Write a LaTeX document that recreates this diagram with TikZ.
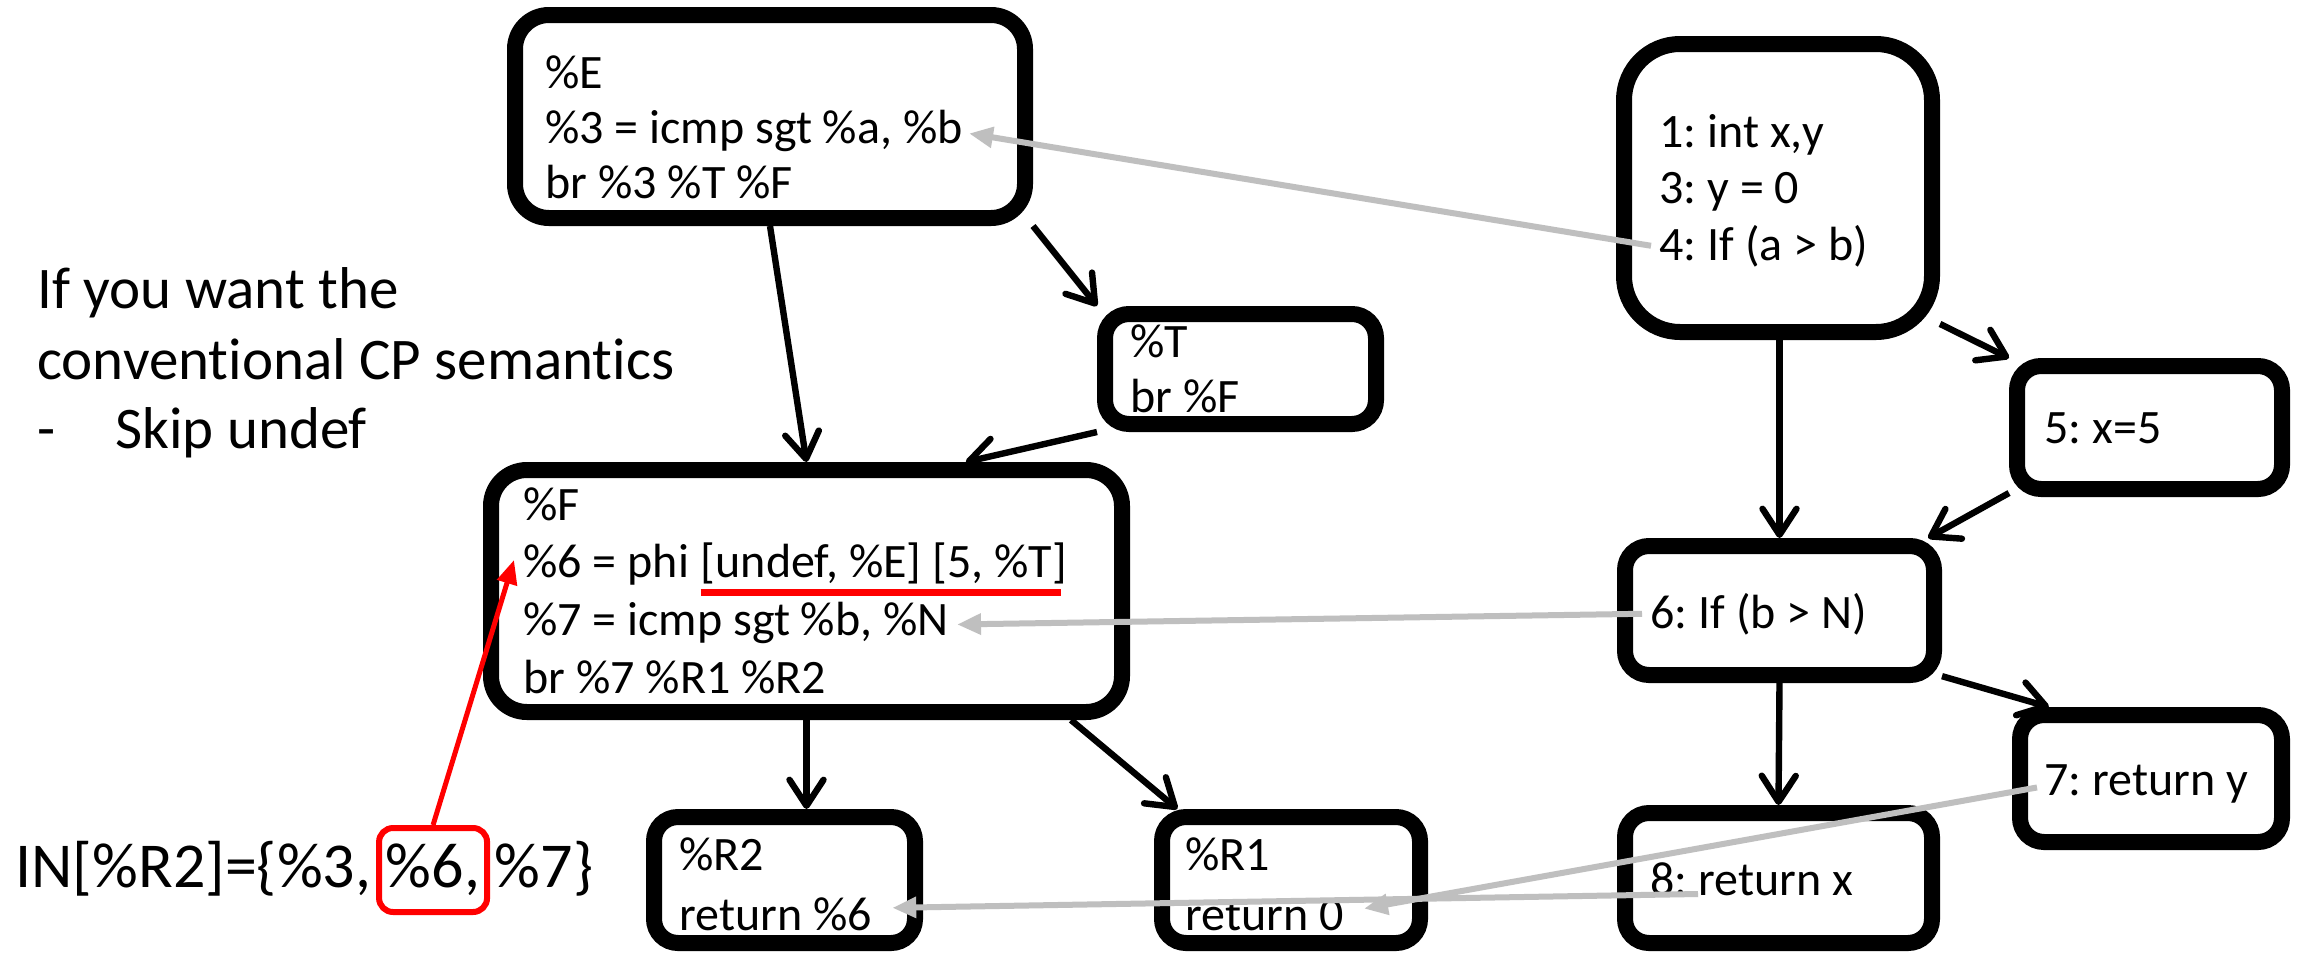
\documentclass[tikz,border=0pt]{standalone}
\usepackage{fontspec}
\setmainfont{Carlito}[Ligatures=NoCommon]
\usetikzlibrary{arrows.meta,calc}
\definecolor{refgrey}{HTML}{BFBFBF}
\definecolor{hlred}{HTML}{FF0000}
\newcommand\cfgbox[6]{%
  \node[blk, rounded corners=#6, minimum width={(#4-#2-16)*0.5pt}, minimum height={(#5-#3-16)*0.5pt}] (#1) at ({(#2+#4)/2},{(#3+#5)/2}) {};}
\frenchspacing
\begin{document}
\begin{tikzpicture}[x=0.5pt,y=-0.5pt,
  blk/.style={draw=black, line width=8pt, inner sep=0pt},
  code/.style={font=\fontsize{24}{29}\selectfont, anchor=base west, inner sep=0pt},
  note/.style={font=\fontsize{29.5}{35}\selectfont, anchor=base west, inner sep=0pt},
  innote/.style={font=\fontsize{32}{38}\selectfont, anchor=base west, inner sep=0pt},
  flow/.style={draw=black, line width=3.2pt, -{Straight Barb[length=13pt,width=17pt,round]}},
  link/.style={draw=refgrey, line width=3pt, -{Triangle[length=12pt,width=10pt]}},
  hlarrow/.style={draw=hlred, line width=2.5pt, -{Triangle[length=12pt,width=10pt]}},
]
\fill[white] (0,0) rectangle (2308,954);
\useasboundingbox (0,0) rectangle (2308,954);

% boxes (outer edges in px)
\cfgbox{E}{507}{7}{1033}{226}{17pt}
\cfgbox{T}{1097}{306}{1384}{432}{12pt}
\cfgbox{F}{483}{462}{1130}{720}{18pt}
\cfgbox{R2}{646}{809}{923}{951}{12pt}
\cfgbox{R1}{1154}{809}{1428}{951}{12pt}
\cfgbox{B1}{1616}{36}{1940}{340}{28pt}
\cfgbox{B5}{2009}{358}{2290}{497}{12pt}
\cfgbox{B6}{1617}{538}{1942}{683}{12pt}
\cfgbox{B7}{2012}{707}{2290}{850}{12pt}
\cfgbox{B8}{1617}{805}{1940}{951}{12pt}

% texts
\node[code] (e1) at (545,88) {\%E};
\node[code] (e2) at (545,143) {\%3 = icmp sgt \%a, \%b};
\node[code] (e3) at (545,198) {br \%3 \%T \%F};
\node[code] (t1) at (1130,357) {\%T};
\node[code] (t2) at (1130,412) {br \%F};
\node[code] (f1) at (523,520) {\%F};
\node[code] (f2a) at (523,577) {\%6 = phi};
\node[code] (f2b) at ($(f2a.base east)+(11,0)$) {[undef, \%E] [5, \%T]};
\node[code] (f3) at (523,635) {\%7 = icmp sgt \%b, \%N};
\node[code] (f4) at (523,693) {br \%7 \%R1 \%R2};
\node[code] (r2a) at (679,870) {\%R2};
\node[code] (r2b) at (679,930) {return \%6};
\node[code] (r1a) at (1185,870) {\%R1};
\node[code] (r1b) at (1185,930) {return 0};
\node[code] (b1a) at (1659,147) {1: int x,y};
\node[code] (b1b) at (1659,203) {3: y = 0};
\node[code] (b1c) at (1659,260) {4: If (a > b)};
\node[code] (b5t) at (2044,443) {5: x=5};
\node[code] (b6t) at (1650,628) {6: If (b > N)};
\node[code] (b7t) at (2044,795) {7: return y};
\node[code] (b8t) at (1650,895) {8: return x};

\node[note] (n1) at (37,308) {If you want the};
\node[note] (n2) at (37,379) {conventional CP semantics};
\node[note] (n3a) at (37,448) {-};
\node[note] (n3b) at (115,448) {Skip undef};

\node[innote] (in1) at (15,887) {IN[\%R2]=\{\%3,};
\node[innote] (in2) at ($(in1.base east)+(14,0)$) {\%6,};
\node[innote] (in3) at ($(in2.base east)+(14,0)$) {\%7\}};

% control flow
\draw[flow] (E.south) -- (F.north);
\draw[flow] (E.south east) -- (T.north west);
\draw[flow] (T.south west) -- (F.39);
\draw[flow] (F.south) -- (F.south |- R2.north);
\draw[flow] (F.-26) -- (R1.148);
\draw[flow] (B1.south -| B6.north) -- (B6.north);
\draw[flow] (B1.-40) -- (B5.north west);
\draw[flow] (B5.205) -- (B6.26);
\draw[flow] (B6.south) -- (B8.north);
\draw[flow] (B6.-22) -- (B7.145);

% correspondence links
\coordinate (g8) at (1698,894);
\draw[link] ($(b1c.west)+(-8,0)$) -- ($(e2.east)+(6,3)$);
\draw[link] ($(b6t.west)+(-8,0)$) -- ($(f3.east)+(8,2)$);
\draw[link] ($(b7t.west)+(-7,4)$) -- ($(r1b.east)+(20,-6)$);
\draw[link] (g8) -- ($(r2b.east)+(20,-6)$);

% highlight
\draw[hlred, line width=3.5pt] ($(f2b.base west)+(0,15)$) -- ($(f2b.base east)+(-6,15)$);
\node[draw=hlred, line width=3pt, rounded corners=7pt, minimum width=54pt, minimum height=42pt, inner sep=0pt] (hl) at ($(in2.base)+(0,-17)$) {};
\coordinate (phitip) at (514,560);
\draw[hlarrow] (hl.north) -- (phitip);
\end{tikzpicture}
\end{document}
